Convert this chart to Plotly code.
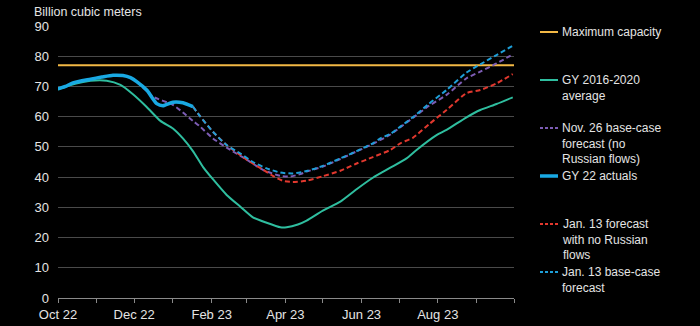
import datetime as dt
import plotly.graph_objects as go

START = dt.date(2022, 10, 1)

def to_dates(days):
    return [(START + dt.timedelta(days=d)).isoformat() for d in days]

# ---- data (day offsets from 1 Oct 2022, values in bcm) ----
max_capacity = 77.0

avg_days = [0, 10, 20, 26, 39, 50, 60, 71, 82, 92, 100, 108, 116, 124, 135, 146, 156,
            167, 178, 183, 192, 199, 212, 226, 239, 252, 266, 279, 287, 303, 311, 327,
            338, 351, 364]
avg_vals = [69.0, 70.5, 71.5, 71.9, 71.9, 70.5, 67.4, 63.2, 58.6, 56.1, 52.8, 48.6, 43.4,
            39.3, 34.1, 30.2, 26.7, 24.9, 23.4, 23.4, 24.3, 25.6, 28.9, 31.9, 36.0, 39.8,
            43.1, 46.2, 49.0, 53.9, 55.6, 59.8, 62.2, 64.2, 66.4]

nov_days = [63, 71, 76, 92, 100, 108, 113, 124, 138, 151, 164, 178, 186, 194, 199, 212,
            226, 239, 252, 266, 274, 284, 297, 311, 327, 338, 351, 364]
nov_vals = [71.6, 68.5, 66.6, 63.9, 61.4, 58.6, 57.0, 52.8, 49.0, 45.8, 42.4, 40.4, 40.2,
            41.0, 41.8, 43.5, 46.0, 48.5, 51.0, 54.1, 56.5, 59.6, 63.6, 67.2, 72.7, 74.9,
            77.6, 80.6]

act_days = [0, 6, 12, 26, 35, 44, 52, 58, 63, 71, 79, 84, 92, 100, 108]
act_vals = [69.2, 70.0, 71.2, 72.4, 73.1, 73.7, 73.6, 72.9, 71.6, 68.8, 64.3, 63.6, 64.8,
            64.6, 63.3]

red_days = [108, 114, 124, 135, 141, 151, 162, 172, 180, 188, 199, 212, 226, 239, 252,
            266, 274, 284, 297, 311, 327, 338, 351, 364]
red_vals = [63.3, 60.0, 55.0, 50.6, 48.8, 45.8, 43.0, 40.4, 38.8, 38.4, 38.8, 40.3, 42.1,
            44.5, 46.6, 49.0, 51.2, 53.0, 57.5, 62.2, 67.8, 68.8, 71.0, 74.1]

base_days = [108, 114, 124, 135, 146, 156, 167, 178, 188, 199, 212, 226, 239, 252, 258,
             266, 274, 284, 297, 311, 327, 338, 351, 364]
base_vals = [63.3, 60.0, 55.0, 50.6, 47.8, 45.0, 42.9, 41.5, 41.2, 42.0, 43.7, 46.2, 48.6,
             51.2, 52.8, 54.3, 56.7, 59.8, 64.3, 68.8, 74.6, 77.3, 80.4, 83.5]

month_ticks = ["2022-10-01", "2022-11-01", "2022-12-01", "2023-01-01", "2023-02-01",
               "2023-03-01", "2023-04-01", "2023-05-01", "2023-06-01", "2023-07-01",
               "2023-08-01", "2023-09-01", "2023-10-01"]
month_labels = ["Oct 22", "", "Dec 22", "", "Feb 23", "", "Apr 23", "", "Jun 23", "",
                "Aug 23", "", ""]

legend_labels = ["Maximum capacity", "GY 2016-2020<br>average",
                 "Nov. 26 base-case<br>forecast (no<br>Russian flows)", "GY 22 actuals",
                 "Jan. 13 forecast<br>with no Russian<br>flows", "Jan. 13 base-case<br>forecast"]

# ---- styles ----
C_MAX = "#F2B845"
C_AVG = "#2FBE9F"
C_NOV = "#7C5CB4"
C_ACT = "#19A9E3"
C_RED = "#E2382E"
C_BASE = "#1E9FD8"
FONT = "Liberation Sans, Arial, sans-serif"
TXT = "#E4E4E4"

x_end = "2023-10-01"

fig = go.Figure()
fig.add_trace(go.Scatter(x=[month_ticks[0], x_end], y=[max_capacity, max_capacity],
                         mode="lines", line=dict(color=C_MAX, width=2)))
fig.add_trace(go.Scatter(x=to_dates(avg_days), y=avg_vals, mode="lines",
                         line=dict(color=C_AVG, width=2, shape="spline", smoothing=0.6)))
fig.add_trace(go.Scatter(x=to_dates(nov_days), y=nov_vals, mode="lines",
                         line=dict(color=C_NOV, width=2, dash="5px,3px", shape="spline", smoothing=0.6)))
fig.add_trace(go.Scatter(x=to_dates(red_days), y=red_vals, mode="lines",
                         line=dict(color=C_RED, width=2, dash="5px,3px", shape="spline", smoothing=0.6)))
fig.add_trace(go.Scatter(x=to_dates(base_days), y=base_vals, mode="lines",
                         line=dict(color=C_BASE, width=2, dash="5px,3px", shape="spline", smoothing=0.6)))
fig.add_trace(go.Scatter(x=to_dates(act_days), y=act_vals, mode="lines",
                         line=dict(color=C_ACT, width=3.5, shape="spline", smoothing=0.6)))

W, H = 700, 326
L, R, T, B = 58, 186, 26, 28
PW, PH = W - L - R, H - T - B

def px_x(x):
    return (x - L) / PW

def px_y(y):
    return (H - B - y) / PH

annotations = [dict(text="Billion cubic meters", x=px_x(32), y=px_y(12), xref="paper",
                    yref="paper", xanchor="left", yanchor="middle", showarrow=False,
                    font=dict(family=FONT, size=12.5, color=TXT))]
shapes = []
leg_styles = [(C_MAX, 2, "solid"), (C_AVG, 2, "solid"), (C_NOV, 2, "dash"),
              (C_ACT, 3.5, "solid"), (C_RED, 2, "dash"), (C_BASE, 2, "dash")]
first_line_y = [32, 80, 128, 176, 224, 272]
for lab, (col, w, dsh), fy in zip(legend_labels, leg_styles, first_line_y):
    n = lab.count("<br>") + 1
    annotations.append(dict(text=lab, x=px_x(560), y=px_y(fy + (n - 1) * 7.6), xref="paper",
                            yref="paper", xanchor="left", yanchor="middle", align="left",
                            showarrow=False, font=dict(family=FONT, size=12, color=TXT)))
    shapes.append(dict(type="line", xref="paper", yref="paper", x0=px_x(540), x1=px_x(558),
                       y0=px_y(fy), y1=px_y(fy),
                       line=dict(color=col, width=w, dash="3px,2px" if dsh == "dash" else "solid")))

fig.update_layout(
    width=W, height=H, margin=dict(l=L, r=R, t=T, b=B, autoexpand=False),
    paper_bgcolor="#000000", plot_bgcolor="#000000", showlegend=False,
    font=dict(family=FONT, color=TXT, size=13),
    annotations=annotations, shapes=shapes,
    xaxis=dict(type="date", range=[month_ticks[0], x_end], tickmode="array",
               tickvals=month_ticks, ticktext=month_labels, ticks="outside", ticklen=4,
               tickcolor="#8A8A8A", showline=True, linecolor="#8A8A8A", linewidth=1,
               showgrid=False, zeroline=False, automargin=False,
               tickfont=dict(size=13, color=TXT)),
    yaxis=dict(range=[0, 90], dtick=10, tick0=0, showgrid=True, gridcolor="#4A4A4A",
               gridwidth=1, zeroline=False, showline=False, ticks="", automargin=False,
               ticklabelstandoff=8, tickfont=dict(size=13, color=TXT)),
)

fig.write_html("out.html")
